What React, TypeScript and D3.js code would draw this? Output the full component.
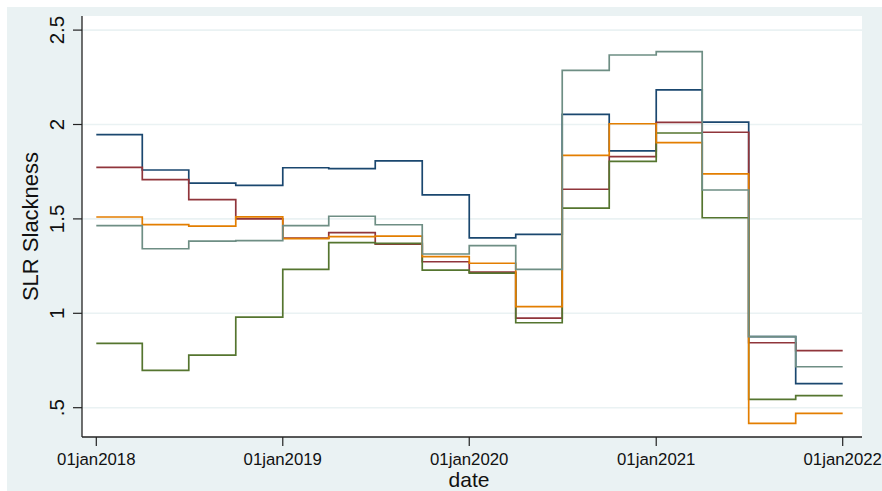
import React from "react";
import * as d3 from "d3";

const quarterStarts = [
  "2018-01-01", "2018-04-01", "2018-07-01", "2018-10-01",
  "2019-01-01", "2019-04-01", "2019-07-01", "2019-10-01",
  "2020-01-01", "2020-04-01", "2020-07-01", "2020-10-01",
  "2021-01-01", "2021-04-01", "2021-07-01", "2021-10-01",
];
const seriesEnd = "2022-01-01";

const navySeries = [1.946, 1.759, 1.690, 1.678, 1.771, 1.766, 1.807, 1.627, 1.399, 1.418, 2.054, 1.860, 2.183, 2.013, 0.876, 0.628];
const maroonSeries = [1.773, 1.708, 1.602, 1.500, 1.398, 1.427, 1.366, 1.273, 1.218, 0.974, 1.657, 1.830, 2.011, 1.959, 0.844, 0.802];
const greenSeries = [0.841, 0.698, 0.778, 0.980, 1.233, 1.374, 1.370, 1.229, 1.213, 0.950, 1.557, 1.805, 1.955, 1.506, 0.544, 0.564];
const orangeSeries = [1.510, 1.470, 1.462, 1.511, 1.395, 1.406, 1.409, 1.300, 1.265, 1.035, 1.836, 2.004, 1.904, 1.738, 0.417, 0.470];
const tealSeries = [1.464, 1.342, 1.382, 1.385, 1.464, 1.514, 1.469, 1.314, 1.358, 1.233, 2.287, 2.368, 2.386, 1.653, 0.876, 0.717];

const seriesColors = ["#1a476f", "#90353b", "#55752f", "#e37e00", "#6e8e84"];
const allSeries = [navySeries, maroonSeries, greenSeries, orangeSeries, tealSeries];

const xTickDates = ["2018-01-01", "2019-01-01", "2020-01-01", "2021-01-01", "2022-01-01"];
const xTickLabels = ["01jan2018", "01jan2019", "01jan2020", "01jan2021", "01jan2022"];
const yTicks = [0.5, 1, 1.5, 2, 2.5];
const yTickLabels = [".5", "1", "1.5", "2", "2.5"];
const xTitle = "date";
const yTitle = "SLR Slackness";

const W = 882;
const H = 491;
const plotLeft = 82;
const plotRight = 862;
const plotTop = 16;
const plotBottom = 437;
const FONT = "'Liberation Sans', Arial, Helvetica, sans-serif";

export default function App() {
  const parse = d3.utcParse("%Y-%m-%d");
  const x = d3
    .scaleUtc()
    .domain([parse("2018-01-01") as Date, parse("2022-01-01") as Date])
    .range([96.3, 842.7]);
  const y = d3.scaleLinear().domain([0.5, 2.5]).range([407.7, 30.1]);

  const dates = quarterStarts.map((s) => parse(s) as Date);
  const endDate = parse(seriesEnd) as Date;

  const line = d3
    .line<{ date: Date; value: number }>()
    .x((d) => x(d.date))
    .y((d) => y(d.value))
    .curve(d3.curveStepAfter);

  const paths = allSeries.map((vals) => {
    const pts = vals.map((v, i) => ({ date: dates[i], value: v }));
    pts.push({ date: endDate, value: vals[vals.length - 1] });
    return line(pts) || "";
  });

  return (
    <svg
      width={W}
      height={H}
      style={{ position: "absolute", left: 0, top: 0, display: "block" }}
      fontFamily={FONT}
    >
      <rect x={0} y={0} width={W} height={H} fill="#ffffff" />
      <rect x={7} y={7} width={W - 7} height={H - 7} fill="#eaf2f3" />
      <rect
        x={plotLeft}
        y={plotTop}
        width={plotRight - plotLeft}
        height={plotBottom - plotTop}
        fill="#ffffff"
      />
      {yTicks.map((t) => (
        <line
          key={"g" + t}
          x1={plotLeft}
          x2={plotRight}
          y1={y(t)}
          y2={y(t)}
          stroke="#eaf2f3"
          strokeWidth={1.6}
        />
      ))}
      {paths.map((p, i) => (
        <path
          key={"s" + i}
          d={p}
          fill="none"
          stroke={seriesColors[i]}
          strokeWidth={1.7}
        />
      ))}
      <line x1={plotLeft} x2={plotLeft} y1={plotTop} y2={plotBottom} stroke="#222" strokeWidth={1.3} />
      <line x1={plotLeft} x2={plotRight} y1={plotBottom} y2={plotBottom} stroke="#222" strokeWidth={1.3} />
      {yTicks.map((t, i) => (
        <g key={"yt" + t}>
          <line x1={plotLeft - 9} x2={plotLeft} y1={y(t)} y2={y(t)} stroke="#222" strokeWidth={1.2} />
          <text
            transform={`translate(${63.5},${y(t)}) rotate(-90)`}
            textAnchor="middle"
            fontSize={20.5}
            fill="#111"
          >
            {yTickLabels[i]}
          </text>
        </g>
      ))}
      {xTickDates.map((s, i) => {
        const xx = x(parse(s) as Date);
        return (
          <g key={"xt" + s}>
            <line x1={xx} x2={xx} y1={plotBottom} y2={plotBottom + 9} stroke="#222" strokeWidth={1.2} />
            <text x={xx} y={465} textAnchor="middle" fontSize={16.8} fill="#111">
              {xTickLabels[i]}
            </text>
          </g>
        );
      })}
      <text x={(plotLeft + plotRight) / 2 - 3} y={487} textAnchor="middle" fontSize={21} fill="#111">
        {xTitle}
      </text>
      <text
        transform={`translate(${38},${(plotTop + plotBottom) / 2}) rotate(-90)`}
        textAnchor="middle"
        fontSize={22}
        fill="#111"
      >
        {yTitle}
      </text>
    </svg>
  );
}
